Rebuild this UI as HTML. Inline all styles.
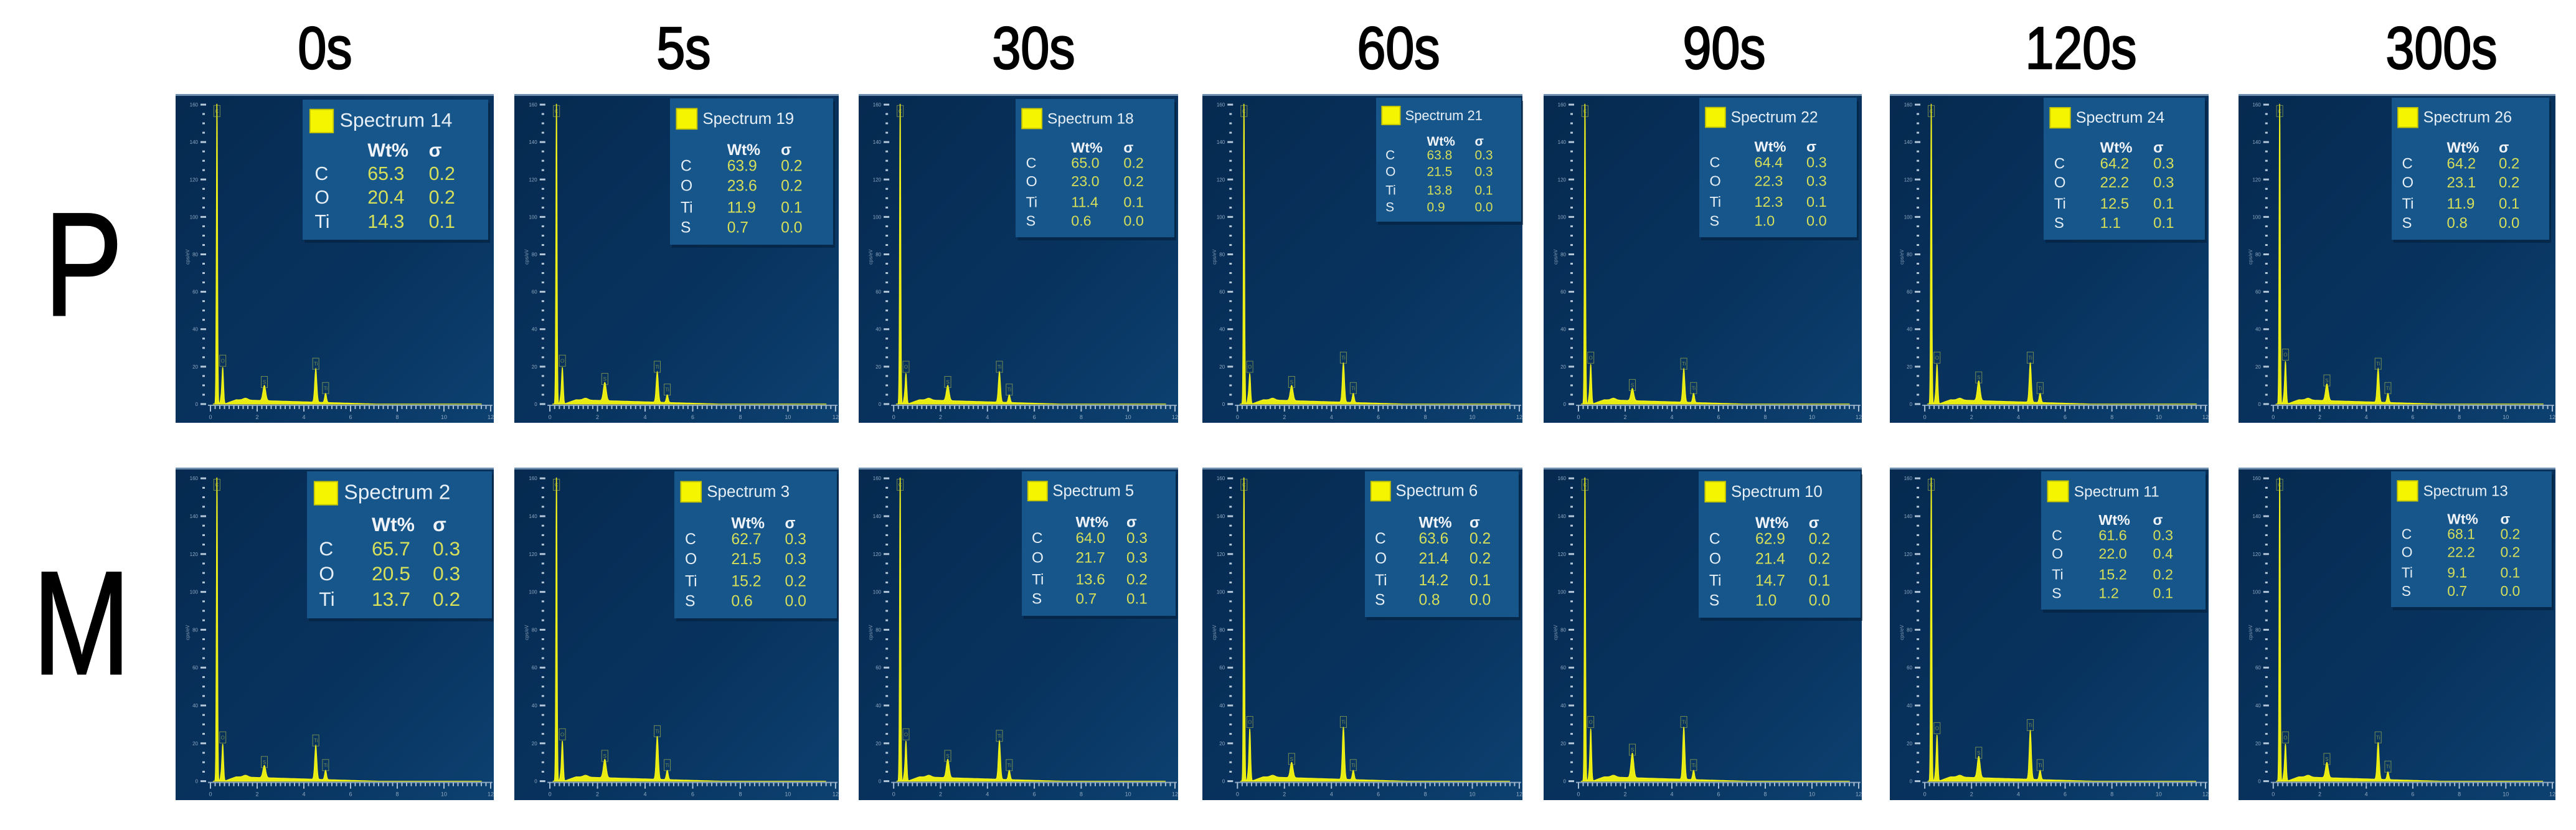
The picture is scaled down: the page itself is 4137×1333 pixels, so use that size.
<!DOCTYPE html>
<html><head><meta charset="utf-8"><style>
html,body{margin:0;padding:0;background:#fff;}
svg{display:block;}
</style></head><body>
<svg id="fig" width="4137" height="1333" viewBox="0 0 4137 1333" xmlns="http://www.w3.org/2000/svg">
<defs>
<linearGradient id="bg" x1="0" y1="0" x2="1" y2="1">
<stop offset="0" stop-color="#062a50"/><stop offset="0.6" stop-color="#08335f"/><stop offset="1" stop-color="#0d4170"/>
</linearGradient>
</defs>
</svg>
<script>
const times = ['0s','5s','30s','60s','90s','120s','300s'];
const rowsLabels = ['P','M'];
const spectrumIds = [[14,19,18,21,22,24,26],[2,3,5,6,10,11,13]];
const elements = [['C','O','Ti'],['C','O','Ti','S'],['C','O','Ti','S'],['C','O','Ti','S'],['C','O','Ti','S'],['C','O','Ti','S'],['C','O','Ti','S'],
                  ['C','O','Ti'],['C','O','Ti','S'],['C','O','Ti','S'],['C','O','Ti','S'],['C','O','Ti','S'],['C','O','Ti','S'],['C','O','Ti','S']];
const wtValues = [['65.3','20.4','14.3'],['63.9','23.6','11.9','0.7'],['65.0','23.0','11.4','0.6'],['63.8','21.5','13.8','0.9'],['64.4','22.3','12.3','1.0'],['64.2','22.2','12.5','1.1'],['64.2','23.1','11.9','0.8'],
                  ['65.7','20.5','13.7'],['62.7','21.5','15.2','0.6'],['64.0','21.7','13.6','0.7'],['63.6','21.4','14.2','0.8'],['62.9','21.4','14.7','1.0'],['61.6','22.0','15.2','1.2'],['68.1','22.2','9.1','0.7']];
const sigmaValues = [['0.2','0.2','0.1'],['0.2','0.2','0.1','0.0'],['0.2','0.2','0.1','0.0'],['0.3','0.3','0.1','0.0'],['0.3','0.3','0.1','0.0'],['0.3','0.3','0.1','0.1'],['0.2','0.2','0.1','0.0'],
                  ['0.3','0.3','0.2'],['0.3','0.3','0.2','0.0'],['0.3','0.3','0.2','0.1'],['0.2','0.2','0.1','0.0'],['0.2','0.2','0.1','0.0'],['0.3','0.4','0.2','0.1'],['0.2','0.2','0.1','0.0']];
const peakO  = [0.12,0.12,0.10,0.10,0.13,0.13,0.14, 0.12,0.13,0.13,0.17,0.17,0.15,0.12];
const peakS  = [0.05,0.06,0.05,0.05,0.04,0.065,0.055, 0.04,0.06,0.06,0.05,0.08,0.07,0.05];
const peakTi = [0.11,0.10,0.10,0.13,0.11,0.13,0.11, 0.11,0.14,0.125,0.17,0.17,0.16,0.12];
const peakTiKb=[0.03,0.025,0.025,0.03,0.03,0.03,0.03, 0.03,0.03,0.03,0.03,0.03,0.03,0.025];
const peakEnergies = [0.277,0.525,2.307,4.51,4.93];

const colLeft = [282,826,1379,1931,2479,3035,3595];
const colW = [511,521,513,514,511,512,509];
const rowTop = [151,751], rowH = [528,534];
const titleX = [522,1098,1660,2246,2769,3342,3921];
const legendRects = [[204,9,298,225],[250,7,262,235],[252,8,255,222],[279,6,233,199],[250,6,253,224],[247,6,259,228],[246,6,253,228],
                     [211,6,297,236],[257,6,261,236],[262,6,247,232],[261,6,247,234],[249,6,260,235],[243,6,264,222],[245,6,258,218]];

const NS='http://www.w3.org/2000/svg';
const svg=document.getElementById('fig');
function mk(tag,attrs,parent){const e=document.createElementNS(NS,tag);for(const k in attrs)e.setAttribute(k,attrs[k]);(parent||svg).appendChild(e);return e;}

times.forEach((t,i)=>{
  const e=mk('text',{x:titleX[i],y:110,'font-family':'Liberation Sans, sans-serif','font-size':96,'text-anchor':'middle',fill:'#000',stroke:'#000','stroke-width':2.5,transform:`translate(${titleX[i]},0) scale(0.86,1) translate(${-titleX[i]},0)`});
  e.textContent=t;
  
  
});
[[134,506],[131,1082]].forEach((p,i)=>{
  const e=mk('text',{x:p[0],y:p[1],'font-family':'Liberation Sans, sans-serif','font-size':236,'text-anchor':'middle',fill:'#000',stroke:'#000','stroke-width':3,transform:`translate(${p[0]},0) scale(0.8,1) translate(${-p[0]},0)`});
  e.textContent=rowsLabels[i];
  
  
});

function gauss(x,m,s){return Math.exp(-0.5*((x-m)/s)*((x-m)/s));}

for(let r=0;r<2;r++){for(let c=0;c<7;c++){
  const idx=r*7+c;
  const X=colLeft[c],Y=rowTop[r],W=colW[c],H=rowH[r];
  const sx=W/511, sy=H/527;
  const g=mk('g',{transform:`translate(${X},${Y})`});
  
  
  mk('rect',{x:0,y:0,width:W,height:H,fill:'url(#bg)'},g);
  mk('rect',{x:0,y:0,width:W,height:3,fill:'#6f8fae'},g);
  const x0=56*sx, kev=37.5*sx, base=497*sy, ph=488*sy;
  const xs=e=>x0+e*kev, ys=v=>base-v*ph;
  const ya=mk('g',{},g);
  
  
  for(let k=0;k<=32;k++){const yy=base-k*15*sy; if(yy<4)break; const major=k%4===0;
    mk('rect',{x:(major?40:43)*sx,y:yy-1.5,width:(major?9:4),height:3,fill:'#b5c8da'},ya);
    if(major){const t=mk('text',{x:36*sx,y:yy+3,'font-size':8,'font-family':'Liberation Sans, sans-serif',fill:'#8fa8c0','text-anchor':'end'},ya);t.textContent=String(k*5);}
  }
  const yl=mk('text',{x:22*sx,y:base*0.55,'font-size':8,fill:'#7f98b0','font-family':'Liberation Sans, sans-serif',transform:`rotate(-90 ${22*sx} ${base*0.55})`},ya);yl.textContent='cps/eV';
  const xa=mk('g',{},g);
  
  
  mk('rect',{x:x0-4,y:base+1,width:W-x0+2,height:2,fill:'#8aa4bd'},xa);
  for(let k=0;k<=60;k++){const xx=xs(k*0.2); if(xx>W-2)break; const major=k%10===0;
    mk('rect',{x:xx-1,y:base+2,width:2,height:major?10:6,fill:'#a8bed4'},xa);
    if(major){const t=mk('text',{x:xx,y:base+24,'font-size':9,'text-anchor':'middle','font-family':'Liberation Sans, sans-serif',fill:'#8fa8c0'},xa);t.textContent=String(k/5);}
  }
  const hts=[1.05,peakO[idx],peakS[idx],peakTi[idx],peakTiKb[idx]];
  const widths=[0.025,0.035,0.06,0.045,0.04];
  let d=`M${xs(0.12)},${base}`;
  for(let e=0.12;e<=11.6;e+=0.01){
    let v=0;
    for(let p=0;p<5;p++){v+=hts[p]*gauss(e,peakEnergies[p],widths[p]);}
    v+=0.018*gauss(e,0.45,0.03)+0.014*Math.min(1,Math.max(0,(e-0.6)/0.5))*Math.max(0,1-(e-1.2)/6)+0.006*gauss(e,1.5,0.1);
    v=Math.min(v,0.985);
    d+=` L${xs(e).toFixed(1)},${ys(v).toFixed(1)}`;
  }
  d+=` L${xs(11.6)},${base} Z`;
  const sp=mk('path',{d:d,fill:'#e8ec10',stroke:'#f4f41a','stroke-width':1.2},g);
  
  
  const lbl=['C','O','S','Ti','Ti'];
  for(let p=0;p<5;p++){
    const vv=p===0?0.985:hts[p];
    const bx=xs(peakEnergies[p]);const by=ys(vv)-(p===0?-2:20);
    const b=mk('g',{opacity:0.6},g);
    
    
    mk('rect',{x:bx-5,y:by,width:10,height:18,fill:'none',stroke:'#b9c64a','stroke-width':1},b);
    const t=mk('text',{x:bx,y:by+12,'font-size':8,'text-anchor':'middle',fill:'#b9c64a','font-family':'Liberation Sans, sans-serif'},b);t.textContent=lbl[p];
  }
  const [lx,ly,lw,lh]=legendRects[idx];
  const n=elements[idx].length;
  const lg=mk('g',{transform:`translate(${lx},${ly})`},g);
  
  
  mk('rect',{x:3,y:5,width:lw,height:lh,fill:'#041f3a',opacity:0.6},lg);
  mk('rect',{x:0,y:0,width:lw,height:lh,fill:'#17568a'},lg);
  const sq=lw*0.125;
  mk('rect',{x:lw*0.04,y:lh*0.07,width:sq,height:sq,fill:'#f5f500',stroke:'#c8c800','stroke-width':2},lg);
  const fs = n===3 ? lh*0.135 : lh*0.105;
  const tt=mk('text',{x:lw*0.2,y:lh*0.07+sq*0.75,'font-size':fs*1.05,fill:'#e6eef6','font-family':'Liberation Sans, sans-serif'},lg);
  tt.textContent='Spectrum '+spectrumIds[r][c];
  
  const wy = n===3? lh*0.36 : lh*0.35;
  const h1=mk('text',{x:lw*0.35,y:wy+fs*0.35,'font-size':fs,'font-weight':'bold',fill:'#f0f4f8','font-family':'Liberation Sans, sans-serif'},lg);h1.textContent='Wt%';
  const h2=mk('text',{x:lw*0.68,y:wy+fs*0.35,'font-size':fs,'font-weight':'bold',fill:'#f0f4f8','font-family':'Liberation Sans, sans-serif'},lg);h2.textContent='σ';
  const rowYs = n===3? [0.525,0.695,0.868] : [0.46,0.595,0.745,0.88];
  for(let k=0;k<n;k++){
    const yy=lh*rowYs[k]+fs*0.35;
    const row=mk('g',{},lg);
    
    
    const a=mk('text',{x:lw*0.065,y:yy,'font-size':fs,fill:'#e6eef6','font-family':'Liberation Sans, sans-serif'},row);a.textContent=elements[idx][k];
    const b=mk('text',{x:lw*0.35,y:yy,'font-size':fs,fill:'#d6df5a','font-family':'Liberation Sans, sans-serif'},row);b.textContent=wtValues[idx][k];
    const s=mk('text',{x:lw*0.68,y:yy,'font-size':fs,fill:'#d6df5a','font-family':'Liberation Sans, sans-serif'},row);s.textContent=sigmaValues[idx][k];
  }
}}
</script>
</body></html>
